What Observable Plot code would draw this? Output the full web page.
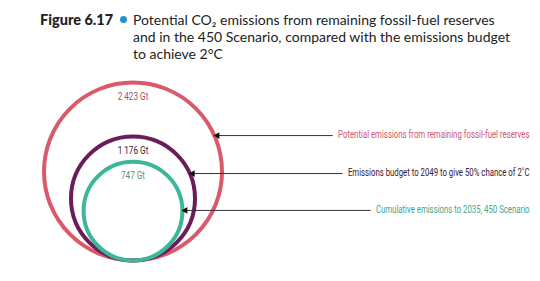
<!DOCTYPE html>
<html><head><meta charset="utf-8">
<script src="https://cdn.jsdelivr.net/npm/d3@7"></script>
<script src="https://cdn.jsdelivr.net/npm/@observablehq/plot@0.6"></script>
<style>
body{margin:0;background:#fff;width:540px;height:281px;overflow:hidden;position:relative;font-family:Lato,"Open Sans",sans-serif;}
#title{position:absolute;left:0;top:0;width:540px;height:70px;font-size:14px;line-height:17px;color:#222;}
#fig{position:absolute;left:40px;top:11px;font-weight:900;font-size:14.5px;}
#bullet{position:absolute;left:120px;top:16px;width:7px;height:7px;border-radius:50%;background:#2a8fc7;}
#txt{position:absolute;left:133px;top:11px;width:400px;}
#chart{position:absolute;left:0;top:70px;}
</style></head>
<body>
<div id="title"><div id="fig">Figure 6.17</div><div id="bullet"></div><div id="txt">Potential CO₂ emissions from remaining fossil-fuel reserves<br>and in the 450 Scenario, compared with the emissions budget<br>to achieve 2°C</div></div>
<div id="chart"></div>
<script>
const values = [2423, 1176, 747];
const valueLabels = ["2 423 Gt", "1 176 Gt", "747 Gt"];
const descriptions = [
  "Potential emissions from remaining fossil-fuel reserves",
  "Emissions budget to 2049 to give 50% chance of 2\u02daC",
  "Cumulative emissions to 2035, 450 Scenario"
];
const circleColors = ["#da5a6d", "#6b1d5b", "#3cb797"];
const textColors = ["#cc5670", "#3a1834", "#3fa58a"];
const valueTextColors = ["#9b5068", "#3a2035", "#4f8f84"];
// annotation leader heights and starts (chart units = sqrt(Gt))
const leaderY = [69.1, 48.1, 27.7];
const leaderStart = [110.4, 115.9, 131.4];
const labelEnd = 219.3;

const k = 89 / Math.sqrt(2423);
const data = values.map((v, i) => {
  const R = Math.sqrt(v);
  const cy = R;
  const ly = leaderY[i];
  const tip = Math.sqrt(Math.max(0, R * R - (ly - cy) * (ly - cy)));
  return {value: v, label: valueLabels[i], desc: descriptions[i], color: circleColors[i], tcolor: textColors[i], vcolor: valueTextColors[i], cy, top: 2 * R, ly, tip, start: leaderStart[i], fit: (labelEnd - leaderStart[i]) * k - 5};
});

const W = 540, H = 211, cx0 = 132.5, base = 190;
const plot = Plot.plot({
  width: W, height: H, margin: 0,
  style: {fontFamily: "Roboto,'Open Sans',sans-serif", background: "transparent"},
  x: {domain: [-cx0 / k, (W - cx0) / k], range: [0, W], axis: null},
  y: {domain: [(base - H) / k, base / k], range: [H, 0], axis: null},
  r: {type: "sqrt", domain: [0, 2423], range: [0, 89]},
  marks: [
    Plot.dot(data, {x: () => 0, y: "cy", r: "value", stroke: d => d.color, fill: "none", strokeWidth: 4}),
    Plot.text(data, {x: () => 0, y: "top", dy: 14, text: "label", fill: d => d.vcolor, fontSize: 10}),
    Plot.link(data, {x1: "start", x2: "tip", y1: "ly", y2: "ly", stroke: "#333", strokeWidth: 1}),
    Plot.dot(data, {x: "tip", y: "ly", dx: 3, symbol: "triangle2", rotate: -90, r: 3.2, fill: "#111"}),
    Plot.text(data, {x: () => labelEnd, y: "ly", dy: -1, text: "desc", textAnchor: "end", fill: d => d.tcolor, fontSize: 11})
  ]
});
document.getElementById("chart").appendChild(plot);
function squeeze(t, s) {
  const tr = t.getAttribute("transform") || "";
  t.setAttribute("transform", tr + ` scale(${s.toFixed(3)},1)`);
}
const groups = plot.querySelectorAll('g[aria-label="text"]');
groups[0].querySelectorAll("text").forEach(t => squeeze(t, 0.82));
groups[1].querySelectorAll("text").forEach((t, i) => {
  const w = t.getComputedTextLength();
  squeeze(t, data[i].fit / w);
});
</script>
</body></html>
